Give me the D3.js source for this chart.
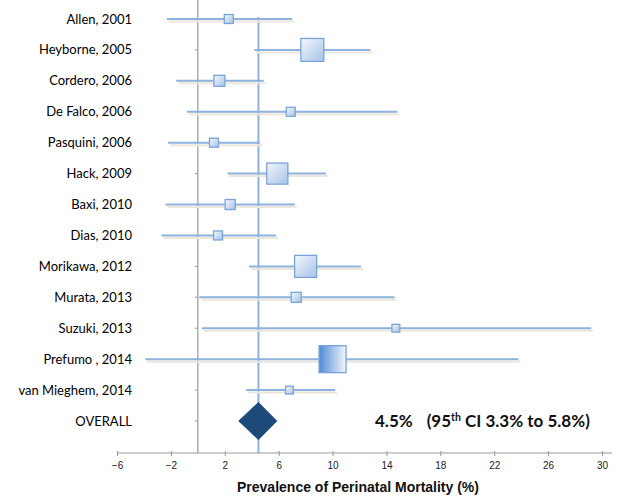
<!DOCTYPE html>
<html>
<head>
<meta charset="utf-8">
<script src="https://cdn.jsdelivr.net/npm/d3@7"></script>
<style>
  body { margin: 0; background: #fff; }
  #chart { width: 620px; height: 496px; }
</style>
</head>
<body>
<div id="chart"></div>
<script>
// studies
const studies = ["Allen, 2001", "Heyborne, 2005", "Cordero, 2006", "De Falco, 2006", "Pasquini, 2006",
  "Hack, 2009", "Baxi, 2010", "Dias, 2010", "Morikawa, 2012", "Murata, 2013", "Suzuki, 2013",
  "Prefumo , 2014", "van Mieghem, 2014"];
const estimate = [2.3, 8.5, 1.6, 6.9, 1.2, 5.9, 2.4, 1.5, 8.0, 7.3, 14.7, 10.0, 6.8];
const lower    = [-2.3, 4.2, -1.6, -0.8, -2.2, 2.2, -2.4, -2.7, 3.8, 0.1, 0.3, -3.9, 3.6];
const upper    = [7.0, 12.8, 4.9, 14.8, 4.6, 9.5, 7.2, 5.8, 12.1, 14.6, 29.2, 23.8, 10.2];
const weight   = [2.0, 13, 3.0, 2.0, 2.0, 11, 2.5, 2.0, 12, 2.5, 1.5, 18, 1.5];

// pooled result
const overallLabel = "OVERALL";
const overall = [4.5, 3.0, 5.9]; // estimate, diamond left, diamond right
const overallText = ["4.5%", "(95", "th", " CI 3.3% to 5.8%)"];

const xTicks = [-6, -2, 2, 6, 10, 14, 18, 22, 26, 30];
const xTitle = "Prevalence of Perinatal Mortality (%)";

function drawForest() {
    const width = 620;
    const height = 496;

    d3.select("#chart").selectAll("*").remove();

    const svg = d3.select("#chart")
        .append("svg")
        .attr("width", width)
        .attr("height", height);

    const x = d3.scaleLinear()
        .domain([-6, 30])
        .range([117, 602]);

    const y = d3.scalePoint()
        .domain(studies.concat([overallLabel]))
        .range([19, 421]);

    const size = d3.scaleSqrt()
        .domain([0, d3.max(weight)])
        .range([0, 27]);

    const axisY = 453;

    // gradients for the boxes
    const defs = svg.append("defs");
    const g1 = defs.append("linearGradient")
        .attr("id", "boxFill")
        .attr("x1", "0").attr("y1", "0").attr("x2", "1").attr("y2", "1");
    g1.append("stop").attr("offset", "0%").attr("stop-color", "#f4f7fc");
    g1.append("stop").attr("offset", "100%").attr("stop-color", "#a6c3e8");

    const g2 = defs.append("linearGradient")
        .attr("id", "boxFillBig")
        .attr("x1", "0").attr("y1", "0").attr("x2", "1").attr("y2", "0");
    g2.append("stop").attr("offset", "0%").attr("stop-color", "#4f8cd6");
    g2.append("stop").attr("offset", "100%").attr("stop-color", "#f2f6fc");

    // zero line
    svg.append("line")
        .attr("x1", x(0)).attr("x2", x(0))
        .attr("y1", 0).attr("y2", axisY)
        .attr("stroke", "#9a9a9a")
        .attr("stroke-width", 1.2);

    // row ticks on the zero line
    svg.append("g")
        .selectAll("line")
        .data(y.domain())
        .enter()
        .append("line")
        .attr("x1", x(0) - 3).attr("x2", x(0))
        .attr("y1", d => y(d)).attr("y2", d => y(d))
        .attr("stroke", "#9a9a9a");

    // pooled estimate line
    svg.append("line")
        .attr("x1", x(overall[0])).attr("x2", x(overall[0]))
        .attr("y1", y(studies[0]) - 2).attr("y2", axisY)
        .attr("stroke", "#8db2de")
        .attr("stroke-width", 2);

    const rows = studies.map((s, i) => ({
        name: s, est: estimate[i], lo: lower[i], hi: upper[i], w: weight[i]
    }));
    const biggest = d3.max(weight);

    // CI shadows
    svg.append("g")
        .selectAll("line")
        .data(rows)
        .enter()
        .append("line")
        .attr("x1", d => x(d.lo) + 2).attr("x2", d => x(d.hi) + 2)
        .attr("y1", d => y(d.name) + 2.5).attr("y2", d => y(d.name) + 2.5)
        .attr("stroke", "#ece6dc")
        .attr("stroke-width", 2);

    // CI lines
    svg.append("g")
        .selectAll("line")
        .data(rows)
        .enter()
        .append("line")
        .attr("x1", d => x(d.lo)).attr("x2", d => x(d.hi))
        .attr("y1", d => y(d.name)).attr("y2", d => y(d.name))
        .attr("stroke", "#8db2de")
        .attr("stroke-width", 2);

    // boxes
    svg.append("g")
        .selectAll("rect")
        .data(rows)
        .enter()
        .append("rect")
        .attr("x", d => x(d.est) - size(d.w) / 2)
        .attr("y", d => y(d.name) - size(d.w) / 2)
        .attr("width", d => size(d.w))
        .attr("height", d => size(d.w))
        .attr("fill", d => d.w === biggest ? "url(#boxFillBig)" : "url(#boxFill)")
        .attr("stroke", "#7aa4d8")
        .attr("stroke-width", 1.3);

    // diamond
    const yc = y(overallLabel);
    const half = 19;
    svg.append("path")
        .attr("d", `M${x(overall[1])},${yc} L${x(overall[0])},${yc - half} L${x(overall[2])},${yc} L${x(overall[0])},${yc + half} Z`)
        .attr("fill", "#1d4a78");

    // study labels
    svg.append("g")
        .selectAll("text")
        .data(y.domain())
        .enter()
        .append("text")
        .attr("x", 132)
        .attr("y", d => y(d))
        .attr("dy", "0.35em")
        .attr("text-anchor", "end")
        .attr("font-family", "Lato, 'Open Sans', sans-serif")
        .attr("font-size", "13px")
        .attr("fill", "#000")
        .text(d => d);

    // pooled text
    const t = svg.append("text")
        .attr("x", 375)
        .attr("y", yc + 6)
        .attr("font-family", "Lato, 'Open Sans', sans-serif")
        .attr("font-weight", "bold")
        .attr("font-size", "17px")
        .attr("fill", "#111");
    t.append("tspan").text(overallText[0]);
    t.append("tspan").attr("dx", 14).text(overallText[1]);
    t.append("tspan").attr("dy", -6).attr("font-size", "10.5px").text(overallText[2]);
    t.append("tspan").attr("dy", 6).text(overallText[3]);

    // x axis
    svg.append("line")
        .attr("x1", x(-6)).attr("x2", 612)
        .attr("y1", axisY).attr("y2", axisY)
        .attr("stroke", "#9a9a9a");

    const ax = svg.append("g")
        .attr("transform", `translate(0,${axisY})`)
        .call(d3.axisBottom(x).tickValues(xTicks).tickSize(3).tickPadding(6));
    ax.select(".domain").remove();
    ax.selectAll(".tick line").attr("stroke", "#9a9a9a").attr("y1", -2);
    ax.selectAll(".tick text")
        .attr("font-family", "Arial, 'Liberation Sans', sans-serif")
        .attr("font-size", "10px")
        .attr("fill", "#222");

    svg.append("text")
        .attr("x", 358)
        .attr("y", 492)
        .attr("text-anchor", "middle")
        .attr("font-family", "Arial, 'Liberation Sans', sans-serif")
        .attr("font-weight", "bold")
        .attr("font-size", "14px")
        .attr("fill", "#111")
        .text(xTitle);
}

drawForest();
</script>
</body>
</html>
